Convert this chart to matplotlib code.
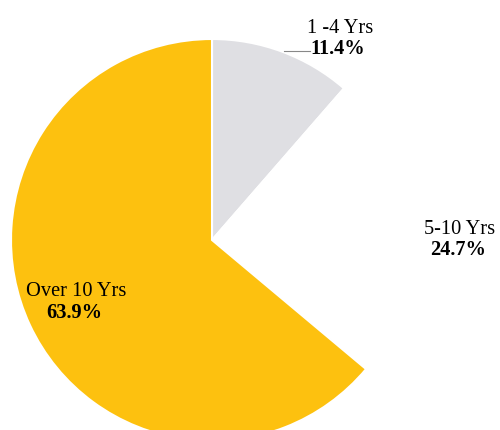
import matplotlib.pyplot as plt

labels = ['1 -4 Yrs', '5-10 Yrs', 'Over 10 Yrs']
shares = [11.4, 24.7, 63.9]
colors = ['#dfdfe3', '#ffffff', '#fdc10f']

fig = plt.figure(figsize=(5, 4.31), dpi=100)
ax = fig.add_axes([0, 0, 1, 1])

ax.pie(shares, colors=colors, startangle=90, counterclock=False,
       center=(212, 190), radius=201, frame=True,
       wedgeprops=dict(edgecolor='white', linewidth=1.5))
ax.set_xlim(0, 500)
ax.set_ylim(0, 431)
ax.set_aspect('equal')
ax.axis('off')

font = 'Liberation Serif'
# label positions in pixels (x, y from top)
pos = [(340, 28), (460, 229), (76, 292)]
for lab, val, (x, y) in zip(labels, shares, pos):
    ax.text(x, 431 - y, lab, ha='center', va='center', fontsize=14.7, family=font)
    ax.text(x - 2, 431 - y - 21, '%.1f%%' % val, ha='center', va='center',
            fontsize=14.7, family=font, fontweight='bold')

ax.plot([284, 310], [431 - 52, 431 - 52], color='#888888', lw=0.8)

fig.savefig('out.png', dpi=100)
